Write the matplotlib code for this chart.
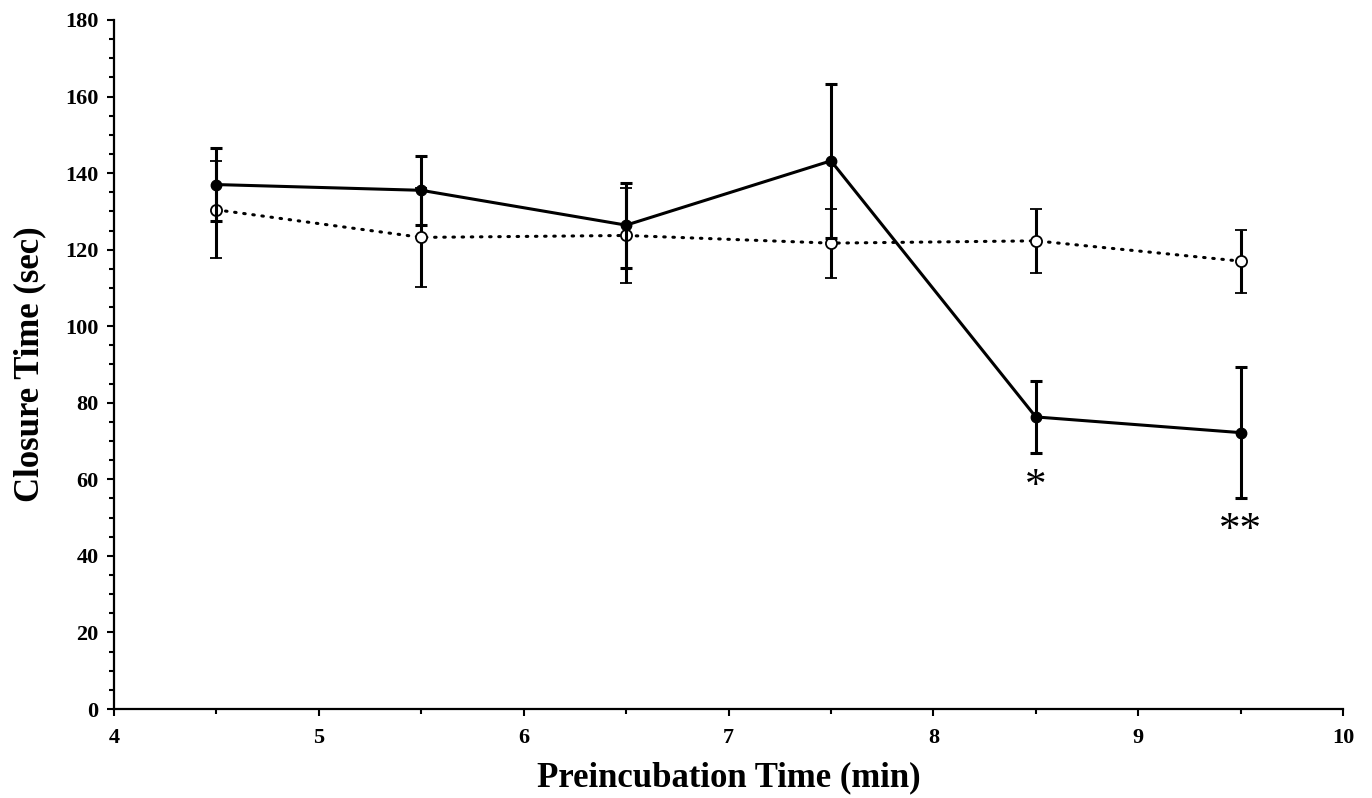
import matplotlib
matplotlib.use("Agg")
from matplotlib import pyplot as plt
from matplotlib.ticker import MultipleLocator

# preincubation time (min)
times = [4.5, 5.5, 6.5, 7.5, 8.5, 9.5]

# filled circles, solid line
solid_mean = [137.0, 135.5, 126.4, 143.2, 76.3, 72.2]
solid_err = [9.5, 9.0, 11.1, 20.1, 9.5, 17.2]

# open circles, dotted line
open_mean = [130.4, 123.2, 123.7, 121.7, 122.3, 117.0]
open_err = [12.7, 13.0, 12.5, 9.0, 8.4, 8.2]

# significance marks
sig_x = [8.5, 9.5]
sig_y = [58.0, 46.5]
sig_text = ["*", "**"]

plt.rcParams['font.family'] = ['Liberation Serif', 'DejaVu Serif']

fig = plt.figure(figsize=(13.72, 7.98), dpi=100)
ax = fig.add_axes([0.0831, 0.1115, 0.8958, 0.8635])

ax.errorbar(times, open_mean, yerr=open_err, color='k', lw=2.2,
            linestyle=(0, (0.5, 2.5)), dash_capstyle='round',
            marker='o', ms=8, mfc='white', mec='k', mew=1.3,
            elinewidth=2.2, capsize=4, capthick=2.2, zorder=3)
ax.errorbar(times, solid_mean, yerr=solid_err, color='k', lw=2.2,
            marker='o', ms=7.5, mfc='k', mec='k',
            elinewidth=2.2, capsize=4, capthick=2.2, zorder=4)

for x, y, t in zip(sig_x, sig_y, sig_text):
    ax.text(x, y, t, ha='center', va='center', fontsize=31)

ax.set_xlim(4, 10)
ax.set_ylim(0, 180)
ax.xaxis.set_major_locator(MultipleLocator(1))
ax.xaxis.set_minor_locator(MultipleLocator(0.5))
ax.yaxis.set_major_locator(MultipleLocator(20))
ax.yaxis.set_minor_locator(MultipleLocator(5))

for s in ['top', 'right']:
    ax.spines[s].set_visible(False)
for s in ['left', 'bottom']:
    ax.spines[s].set_linewidth(1.6)

ax.tick_params(which='major', length=5, width=1.5, labelsize=16)
ax.tick_params(axis='x', which='major', pad=9)
ax.tick_params(axis='y', which='major', pad=6)
ax.tick_params(which='minor', length=3.5, width=1.5)
for lab in ax.get_xticklabels() + ax.get_yticklabels():
    lab.set_fontweight('bold')

ax.set_xlabel('Preincubation Time (min)', fontsize=25, fontweight='bold', labelpad=9)
ax.set_ylabel('Closure Time (sec)', fontsize=25, fontweight='bold', labelpad=14)

fig.savefig('out.png', dpi=100)
